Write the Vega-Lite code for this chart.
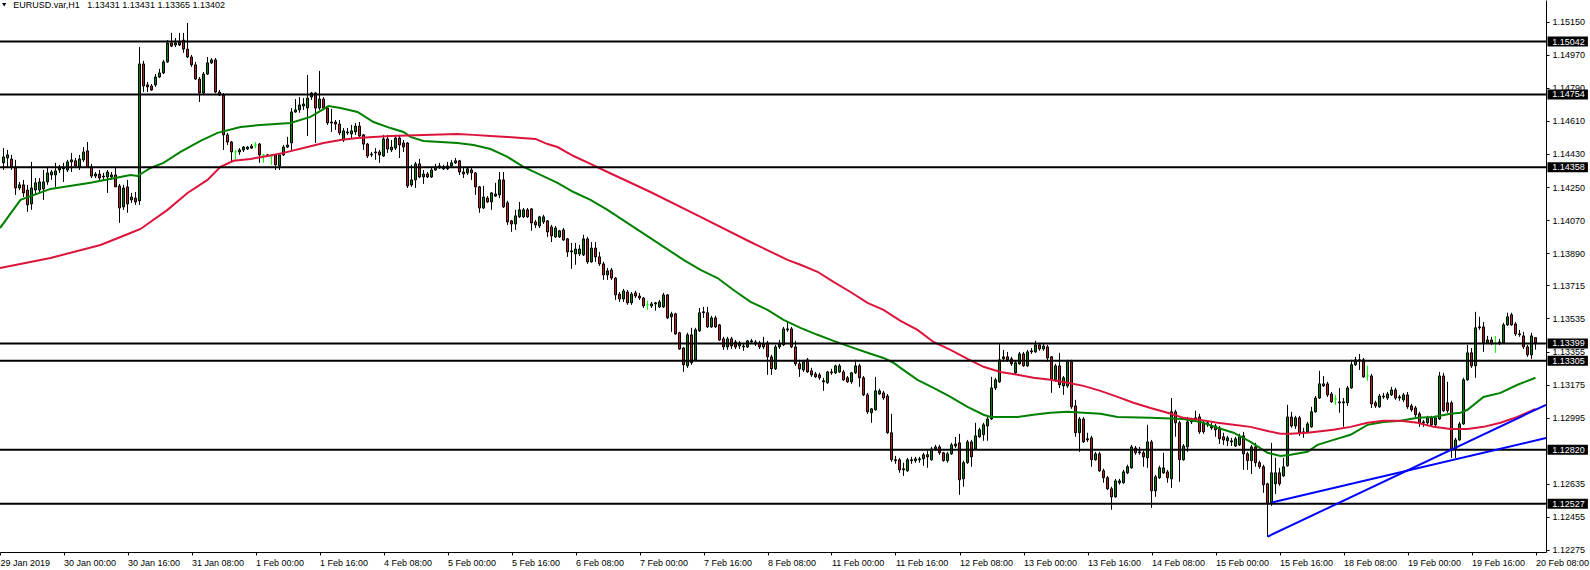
{
"$schema":"https://vega.github.io/schema/vega-lite/v6.json",
"width":1546,"height":552,"padding":{"left":0,"top":0,"right":44,"bottom":18},"autosize":"none","background":"white",
"config":{"view":{"stroke":null},"font":"Liberation Sans","axis":{"labelOverlap":false,"labelBound":false,"labelFlush":false},"axisQuantitative":{"labelOverlap":false},"axisRight":{"labelOverlap":false}},
"datasets":{
"bars":[
{"k":0,"o":1.14382,"h":1.14462,"l":1.14343,"c":1.14414},
{"k":1,"o":1.14408,"h":1.14452,"l":1.14360,"c":1.14425},
{"k":2,"o":1.14403,"h":1.14425,"l":1.14343,"c":1.14360},
{"k":3,"o":1.14360,"h":1.14398,"l":1.14207,"c":1.14245},
{"k":4,"o":1.14245,"h":1.14278,"l":1.14234,"c":1.14262},
{"k":5,"o":1.14262,"h":1.14289,"l":1.14196,"c":1.14218},
{"k":6,"o":1.14234,"h":1.14262,"l":1.14115,"c":1.14153},
{"k":7,"o":1.14158,"h":1.14387,"l":1.14126,"c":1.14245},
{"k":8,"o":1.14234,"h":1.14299,"l":1.14207,"c":1.14273},
{"k":9,"o":1.14234,"h":1.14299,"l":1.14218,"c":1.14278},
{"k":10,"o":1.14240,"h":1.14343,"l":1.14180,"c":1.14278},
{"k":11,"o":1.14278,"h":1.14354,"l":1.14262,"c":1.14327},
{"k":12,"o":1.14316,"h":1.14343,"l":1.14289,"c":1.14332},
{"k":13,"o":1.14316,"h":1.14382,"l":1.14251,"c":1.14338},
{"k":14,"o":1.14343,"h":1.14371,"l":1.14327,"c":1.14354},
{"k":15,"o":1.14349,"h":1.14382,"l":1.14278,"c":1.14354},
{"k":16,"o":1.14343,"h":1.14398,"l":1.14332,"c":1.14387},
{"k":17,"o":1.14387,"h":1.14436,"l":1.14332,"c":1.14398},
{"k":18,"o":1.14393,"h":1.14408,"l":1.14354,"c":1.14365},
{"k":19,"o":1.14360,"h":1.14425,"l":1.14343,"c":1.14403},
{"k":20,"o":1.14398,"h":1.14468,"l":1.14387,"c":1.14441},
{"k":21,"o":1.14447,"h":1.14495,"l":1.14360,"c":1.14360},
{"k":22,"o":1.14360,"h":1.14376,"l":1.14299,"c":1.14310},
{"k":23,"o":1.14310,"h":1.14332,"l":1.14299,"c":1.14321},
{"k":24,"o":1.14321,"h":1.14343,"l":1.14289,"c":1.14299},
{"k":25,"o":1.14305,"h":1.14327,"l":1.14289,"c":1.14310},
{"k":26,"o":1.14305,"h":1.14343,"l":1.14218,"c":1.14332},
{"k":27,"o":1.14305,"h":1.14332,"l":1.14289,"c":1.14316},
{"k":28,"o":1.14316,"h":1.14360,"l":1.14251,"c":1.14251},
{"k":29,"o":1.14256,"h":1.14267,"l":1.14055,"c":1.14136},
{"k":30,"o":1.14142,"h":1.14262,"l":1.14126,"c":1.14245},
{"k":31,"o":1.14251,"h":1.14289,"l":1.14110,"c":1.14158},
{"k":32,"o":1.14180,"h":1.14218,"l":1.14164,"c":1.14196},
{"k":33,"o":1.14190,"h":1.14223,"l":1.14153,"c":1.14169},
{"k":34,"o":1.14175,"h":1.15012,"l":1.14153,"c":1.14920},
{"k":35,"o":1.14920,"h":1.14937,"l":1.14767,"c":1.14800},
{"k":36,"o":1.14806,"h":1.14822,"l":1.14767,"c":1.14795},
{"k":37,"o":1.14800,"h":1.14811,"l":1.14773,"c":1.14778},
{"k":38,"o":1.14806,"h":1.14865,"l":1.14795,"c":1.14849},
{"k":39,"o":1.14849,"h":1.14893,"l":1.14843,"c":1.14871},
{"k":40,"o":1.14871,"h":1.14942,"l":1.14865,"c":1.14931},
{"k":41,"o":1.14931,"h":1.15050,"l":1.14926,"c":1.15034},
{"k":42,"o":1.15034,"h":1.15089,"l":1.15012,"c":1.15017},
{"k":43,"o":1.15023,"h":1.15061,"l":1.15012,"c":1.15034},
{"k":44,"o":1.15023,"h":1.15089,"l":1.15017,"c":1.15039},
{"k":45,"o":1.15050,"h":1.15089,"l":1.14980,"c":1.15001},
{"k":46,"o":1.15001,"h":1.15143,"l":1.14952,"c":1.14958},
{"k":47,"o":1.14958,"h":1.14969,"l":1.14904,"c":1.14915},
{"k":48,"o":1.14915,"h":1.14931,"l":1.14833,"c":1.14838},
{"k":49,"o":1.14838,"h":1.14849,"l":1.14713,"c":1.14762},
{"k":50,"o":1.14762,"h":1.14876,"l":1.14756,"c":1.14865},
{"k":51,"o":1.14865,"h":1.14958,"l":1.14860,"c":1.14926},
{"k":52,"o":1.14926,"h":1.14952,"l":1.14920,"c":1.14942},
{"k":53,"o":1.14942,"h":1.14952,"l":1.14762,"c":1.14767},
{"k":54,"o":1.14767,"h":1.14778,"l":1.14745,"c":1.14751},
{"k":55,"o":1.14751,"h":1.14762,"l":1.14452,"c":1.14534},
{"k":56,"o":1.14534,"h":1.14545,"l":1.14479,"c":1.14495},
{"k":57,"o":1.14495,"h":1.14501,"l":1.14387,"c":1.14441},
{"k":58,"o":1.14441,"h":1.14452,"l":1.14398,"c":1.14441},
{"k":59,"o":1.14441,"h":1.14462,"l":1.14425,"c":1.14452},
{"k":60,"o":1.14452,"h":1.14473,"l":1.14441,"c":1.14468},
{"k":61,"o":1.14457,"h":1.14473,"l":1.14452,"c":1.14468},
{"k":62,"o":1.14462,"h":1.14484,"l":1.14457,"c":1.14473},
{"k":63,"o":1.14479,"h":1.14495,"l":1.14462,"c":1.14479},
{"k":64,"o":1.14484,"h":1.14490,"l":1.14382,"c":1.14425},
{"k":65,"o":1.14425,"h":1.14430,"l":1.14382,"c":1.14425},
{"k":66,"o":1.14419,"h":1.14430,"l":1.14414,"c":1.14425},
{"k":67,"o":1.14419,"h":1.14430,"l":1.14371,"c":1.14419},
{"k":68,"o":1.14425,"h":1.14425,"l":1.14343,"c":1.14371},
{"k":69,"o":1.14365,"h":1.14425,"l":1.14343,"c":1.14425},
{"k":70,"o":1.14425,"h":1.14479,"l":1.14419,"c":1.14468},
{"k":71,"o":1.14468,"h":1.14523,"l":1.14462,"c":1.14479},
{"k":72,"o":1.14490,"h":1.14680,"l":1.14452,"c":1.14659},
{"k":73,"o":1.14659,"h":1.14729,"l":1.14654,"c":1.14670},
{"k":74,"o":1.14670,"h":1.14740,"l":1.14654,"c":1.14697},
{"k":75,"o":1.14691,"h":1.14734,"l":1.14670,"c":1.14702},
{"k":76,"o":1.14680,"h":1.14860,"l":1.14528,"c":1.14734},
{"k":77,"o":1.14740,"h":1.14767,"l":1.14724,"c":1.14762},
{"k":78,"o":1.14762,"h":1.14767,"l":1.14490,"c":1.14680},
{"k":79,"o":1.14680,"h":1.14882,"l":1.14670,"c":1.14729},
{"k":80,"o":1.14729,"h":1.14740,"l":1.14670,"c":1.14680},
{"k":81,"o":1.14680,"h":1.14686,"l":1.14588,"c":1.14599},
{"k":82,"o":1.14604,"h":1.14675,"l":1.14550,"c":1.14599},
{"k":83,"o":1.14604,"h":1.14615,"l":1.14561,"c":1.14593},
{"k":84,"o":1.14593,"h":1.14615,"l":1.14534,"c":1.14545},
{"k":85,"o":1.14506,"h":1.14571,"l":1.14495,"c":1.14556},
{"k":86,"o":1.14545,"h":1.14571,"l":1.14534,"c":1.14550},
{"k":87,"o":1.14539,"h":1.14588,"l":1.14517,"c":1.14556},
{"k":88,"o":1.14550,"h":1.14599,"l":1.14534,"c":1.14582},
{"k":89,"o":1.14582,"h":1.14604,"l":1.14523,"c":1.14528},
{"k":90,"o":1.14534,"h":1.14539,"l":1.14452,"c":1.14484},
{"k":91,"o":1.14484,"h":1.14490,"l":1.14408,"c":1.14419},
{"k":92,"o":1.14425,"h":1.14441,"l":1.14414,"c":1.14430},
{"k":93,"o":1.14441,"h":1.14462,"l":1.14398,"c":1.14436},
{"k":94,"o":1.14441,"h":1.14452,"l":1.14382,"c":1.14425},
{"k":95,"o":1.14419,"h":1.14534,"l":1.14414,"c":1.14512},
{"k":96,"o":1.14512,"h":1.14534,"l":1.14436,"c":1.14457},
{"k":97,"o":1.14452,"h":1.14506,"l":1.14441,"c":1.14468},
{"k":98,"o":1.14462,"h":1.14534,"l":1.14452,"c":1.14517},
{"k":99,"o":1.14517,"h":1.14534,"l":1.14408,"c":1.14479},
{"k":100,"o":1.14490,"h":1.14506,"l":1.14441,"c":1.14468},
{"k":101,"o":1.14490,"h":1.14495,"l":1.14245,"c":1.14256},
{"k":102,"o":1.14262,"h":1.14371,"l":1.14251,"c":1.14289},
{"k":103,"o":1.14289,"h":1.14387,"l":1.14245,"c":1.14376},
{"k":104,"o":1.14376,"h":1.14403,"l":1.14299,"c":1.14305},
{"k":105,"o":1.14305,"h":1.14343,"l":1.14267,"c":1.14321},
{"k":106,"o":1.14321,"h":1.14332,"l":1.14299,"c":1.14305},
{"k":107,"o":1.14305,"h":1.14354,"l":1.14299,"c":1.14343},
{"k":108,"o":1.14343,"h":1.14376,"l":1.14338,"c":1.14360},
{"k":109,"o":1.14354,"h":1.14382,"l":1.14349,"c":1.14365},
{"k":110,"o":1.14360,"h":1.14371,"l":1.14343,"c":1.14349},
{"k":111,"o":1.14349,"h":1.14387,"l":1.14343,"c":1.14365},
{"k":112,"o":1.14365,"h":1.14398,"l":1.14360,"c":1.14382},
{"k":113,"o":1.14382,"h":1.14408,"l":1.14376,"c":1.14393},
{"k":114,"o":1.14393,"h":1.14398,"l":1.14316,"c":1.14332},
{"k":115,"o":1.14332,"h":1.14360,"l":1.14299,"c":1.14321},
{"k":116,"o":1.14327,"h":1.14354,"l":1.14316,"c":1.14349},
{"k":117,"o":1.14343,"h":1.14354,"l":1.14289,"c":1.14327},
{"k":118,"o":1.14327,"h":1.14332,"l":1.14207,"c":1.14251},
{"k":119,"o":1.14251,"h":1.14256,"l":1.14110,"c":1.14136},
{"k":120,"o":1.14136,"h":1.14256,"l":1.14131,"c":1.14196},
{"k":121,"o":1.14190,"h":1.14201,"l":1.14164,"c":1.14169},
{"k":122,"o":1.14169,"h":1.14223,"l":1.14126,"c":1.14218},
{"k":123,"o":1.14201,"h":1.14273,"l":1.14196,"c":1.14212},
{"k":124,"o":1.14207,"h":1.14332,"l":1.14190,"c":1.14289},
{"k":125,"o":1.14289,"h":1.14332,"l":1.14136,"c":1.14142},
{"k":126,"o":1.14164,"h":1.14175,"l":1.14044,"c":1.14060},
{"k":127,"o":1.14066,"h":1.14071,"l":1.14006,"c":1.14049},
{"k":128,"o":1.14049,"h":1.14126,"l":1.14017,"c":1.14093},
{"k":129,"o":1.14088,"h":1.14169,"l":1.14082,"c":1.14126},
{"k":130,"o":1.14088,"h":1.14136,"l":1.14082,"c":1.14126},
{"k":131,"o":1.14126,"h":1.14136,"l":1.14082,"c":1.14088},
{"k":132,"o":1.14131,"h":1.14136,"l":1.14012,"c":1.14055},
{"k":133,"o":1.14060,"h":1.14071,"l":1.14027,"c":1.14044},
{"k":134,"o":1.14038,"h":1.14093,"l":1.14027,"c":1.14088},
{"k":135,"o":1.14060,"h":1.14099,"l":1.14049,"c":1.14088},
{"k":136,"o":1.14066,"h":1.14071,"l":1.13979,"c":1.14006},
{"k":137,"o":1.14033,"h":1.14044,"l":1.13951,"c":1.13984},
{"k":138,"o":1.13979,"h":1.14038,"l":1.13973,"c":1.14027},
{"k":139,"o":1.13979,"h":1.14017,"l":1.13973,"c":1.14012},
{"k":140,"o":1.14017,"h":1.14027,"l":1.13957,"c":1.13962},
{"k":141,"o":1.13968,"h":1.13973,"l":1.13870,"c":1.13897},
{"k":142,"o":1.13897,"h":1.13946,"l":1.13805,"c":1.13903},
{"k":143,"o":1.13886,"h":1.13946,"l":1.13827,"c":1.13913},
{"k":144,"o":1.13886,"h":1.13935,"l":1.13875,"c":1.13913},
{"k":145,"o":1.13881,"h":1.13990,"l":1.13875,"c":1.13968},
{"k":146,"o":1.13968,"h":1.13979,"l":1.13832,"c":1.13843},
{"k":147,"o":1.13843,"h":1.13951,"l":1.13838,"c":1.13918},
{"k":148,"o":1.13918,"h":1.13951,"l":1.13843,"c":1.13870},
{"k":149,"o":1.13870,"h":1.13897,"l":1.13821,"c":1.13832},
{"k":150,"o":1.13832,"h":1.13843,"l":1.13745,"c":1.13772},
{"k":151,"o":1.13772,"h":1.13810,"l":1.13745,"c":1.13794},
{"k":152,"o":1.13799,"h":1.13810,"l":1.13745,"c":1.13755},
{"k":153,"o":1.13755,"h":1.13761,"l":1.13636,"c":1.13663},
{"k":154,"o":1.13668,"h":1.13679,"l":1.13625,"c":1.13641},
{"k":155,"o":1.13641,"h":1.13696,"l":1.13625,"c":1.13685},
{"k":156,"o":1.13679,"h":1.13690,"l":1.13609,"c":1.13620},
{"k":157,"o":1.13620,"h":1.13679,"l":1.13609,"c":1.13668},
{"k":158,"o":1.13674,"h":1.13685,"l":1.13646,"c":1.13657},
{"k":159,"o":1.13657,"h":1.13674,"l":1.13636,"c":1.13646},
{"k":160,"o":1.13646,"h":1.13652,"l":1.13592,"c":1.13603},
{"k":161,"o":1.13609,"h":1.13631,"l":1.13582,"c":1.13609},
{"k":162,"o":1.13603,"h":1.13625,"l":1.13592,"c":1.13614},
{"k":163,"o":1.13614,"h":1.13625,"l":1.13577,"c":1.13620},
{"k":164,"o":1.13598,"h":1.13636,"l":1.13592,"c":1.13625},
{"k":165,"o":1.13598,"h":1.13674,"l":1.13592,"c":1.13663},
{"k":166,"o":1.13663,"h":1.13668,"l":1.13533,"c":1.13538},
{"k":167,"o":1.13544,"h":1.13571,"l":1.13462,"c":1.13560},
{"k":168,"o":1.13560,"h":1.13566,"l":1.13446,"c":1.13451},
{"k":169,"o":1.13457,"h":1.13462,"l":1.13364,"c":1.13369},
{"k":170,"o":1.13374,"h":1.13380,"l":1.13244,"c":1.13283},
{"k":171,"o":1.13277,"h":1.13457,"l":1.13266,"c":1.13446},
{"k":172,"o":1.13446,"h":1.13484,"l":1.13283,"c":1.13294},
{"k":173,"o":1.13310,"h":1.13484,"l":1.13305,"c":1.13473},
{"k":174,"o":1.13468,"h":1.13592,"l":1.13462,"c":1.13566},
{"k":175,"o":1.13566,"h":1.13598,"l":1.13538,"c":1.13571},
{"k":176,"o":1.13566,"h":1.13598,"l":1.13484,"c":1.13489},
{"k":177,"o":1.13489,"h":1.13549,"l":1.13484,"c":1.13538},
{"k":178,"o":1.13538,"h":1.13549,"l":1.13484,"c":1.13489},
{"k":179,"o":1.13500,"h":1.13505,"l":1.13413,"c":1.13418},
{"k":180,"o":1.13424,"h":1.13435,"l":1.13364,"c":1.13380},
{"k":181,"o":1.13380,"h":1.13435,"l":1.13364,"c":1.13424},
{"k":182,"o":1.13424,"h":1.13435,"l":1.13369,"c":1.13385},
{"k":183,"o":1.13407,"h":1.13418,"l":1.13369,"c":1.13380},
{"k":184,"o":1.13385,"h":1.13413,"l":1.13369,"c":1.13402},
{"k":185,"o":1.13380,"h":1.13396,"l":1.13359,"c":1.13385},
{"k":186,"o":1.13380,"h":1.13418,"l":1.13374,"c":1.13413},
{"k":187,"o":1.13407,"h":1.13424,"l":1.13396,"c":1.13413},
{"k":188,"o":1.13407,"h":1.13418,"l":1.13385,"c":1.13396},
{"k":189,"o":1.13402,"h":1.13413,"l":1.13369,"c":1.13380},
{"k":190,"o":1.13396,"h":1.13435,"l":1.13369,"c":1.13380},
{"k":191,"o":1.13402,"h":1.13413,"l":1.13228,"c":1.13326},
{"k":192,"o":1.13326,"h":1.13337,"l":1.13228,"c":1.13261},
{"k":193,"o":1.13261,"h":1.13391,"l":1.13255,"c":1.13380},
{"k":194,"o":1.13380,"h":1.13418,"l":1.13369,"c":1.13396},
{"k":195,"o":1.13391,"h":1.13489,"l":1.13385,"c":1.13478},
{"k":196,"o":1.13473,"h":1.13516,"l":1.13462,"c":1.13478},
{"k":197,"o":1.13478,"h":1.13489,"l":1.13374,"c":1.13380},
{"k":198,"o":1.13380,"h":1.13413,"l":1.13277,"c":1.13288},
{"k":199,"o":1.13288,"h":1.13310,"l":1.13217,"c":1.13261},
{"k":200,"o":1.13255,"h":1.13310,"l":1.13244,"c":1.13299},
{"k":201,"o":1.13310,"h":1.13320,"l":1.13239,"c":1.13244},
{"k":202,"o":1.13250,"h":1.13266,"l":1.13217,"c":1.13228},
{"k":203,"o":1.13233,"h":1.13244,"l":1.13212,"c":1.13217},
{"k":204,"o":1.13228,"h":1.13239,"l":1.13201,"c":1.13212},
{"k":205,"o":1.13196,"h":1.13212,"l":1.13141,"c":1.13190},
{"k":206,"o":1.13185,"h":1.13250,"l":1.13179,"c":1.13244},
{"k":207,"o":1.13239,"h":1.13261,"l":1.13228,"c":1.13244},
{"k":208,"o":1.13239,"h":1.13283,"l":1.13233,"c":1.13277},
{"k":209,"o":1.13244,"h":1.13288,"l":1.13239,"c":1.13277},
{"k":210,"o":1.13244,"h":1.13255,"l":1.13196,"c":1.13201},
{"k":211,"o":1.13212,"h":1.13222,"l":1.13185,"c":1.13190},
{"k":212,"o":1.13190,"h":1.13244,"l":1.13179,"c":1.13239},
{"k":213,"o":1.13239,"h":1.13310,"l":1.13233,"c":1.13277},
{"k":214,"o":1.13277,"h":1.13288,"l":1.13163,"c":1.13212},
{"k":215,"o":1.13212,"h":1.13222,"l":1.13113,"c":1.13119},
{"k":216,"o":1.13119,"h":1.13130,"l":1.13016,"c":1.13027},
{"k":217,"o":1.13022,"h":1.13048,"l":1.12967,"c":1.13043},
{"k":218,"o":1.13038,"h":1.13217,"l":1.13033,"c":1.13141},
{"k":219,"o":1.13124,"h":1.13152,"l":1.13119,"c":1.13141},
{"k":220,"o":1.13130,"h":1.13141,"l":1.13092,"c":1.13102},
{"k":221,"o":1.13113,"h":1.13124,"l":1.12907,"c":1.12913},
{"k":222,"o":1.12913,"h":1.13016,"l":1.12755,"c":1.12766},
{"k":223,"o":1.12761,"h":1.12787,"l":1.12744,"c":1.12766},
{"k":224,"o":1.12766,"h":1.12776,"l":1.12695,"c":1.12711},
{"k":225,"o":1.12711,"h":1.12750,"l":1.12678,"c":1.12717},
{"k":226,"o":1.12706,"h":1.12776,"l":1.12700,"c":1.12766},
{"k":227,"o":1.12761,"h":1.12782,"l":1.12744,"c":1.12766},
{"k":228,"o":1.12761,"h":1.12782,"l":1.12750,"c":1.12771},
{"k":229,"o":1.12766,"h":1.12782,"l":1.12750,"c":1.12771},
{"k":230,"o":1.12771,"h":1.12804,"l":1.12733,"c":1.12793},
{"k":231,"o":1.12793,"h":1.12815,"l":1.12722,"c":1.12782},
{"k":232,"o":1.12766,"h":1.12836,"l":1.12761,"c":1.12825},
{"k":233,"o":1.12825,"h":1.12847,"l":1.12815,"c":1.12836},
{"k":234,"o":1.12836,"h":1.12847,"l":1.12793,"c":1.12804},
{"k":235,"o":1.12804,"h":1.12809,"l":1.12755,"c":1.12761},
{"k":236,"o":1.12761,"h":1.12809,"l":1.12750,"c":1.12798},
{"k":237,"o":1.12798,"h":1.12858,"l":1.12793,"c":1.12847},
{"k":238,"o":1.12841,"h":1.12890,"l":1.12830,"c":1.12852},
{"k":239,"o":1.12858,"h":1.12907,"l":1.12575,"c":1.12657},
{"k":240,"o":1.12662,"h":1.12761,"l":1.12619,"c":1.12750},
{"k":241,"o":1.12750,"h":1.12874,"l":1.12744,"c":1.12863},
{"k":242,"o":1.12863,"h":1.12874,"l":1.12728,"c":1.12782},
{"k":243,"o":1.12825,"h":1.12967,"l":1.12820,"c":1.12896},
{"k":244,"o":1.12891,"h":1.12940,"l":1.12885,"c":1.12929},
{"k":245,"o":1.12902,"h":1.12967,"l":1.12869,"c":1.12956},
{"k":246,"o":1.12950,"h":1.12999,"l":1.12869,"c":1.12988},
{"k":247,"o":1.12988,"h":1.13217,"l":1.12983,"c":1.13157},
{"k":248,"o":1.13157,"h":1.13212,"l":1.13146,"c":1.13201},
{"k":249,"o":1.13190,"h":1.13396,"l":1.13185,"c":1.13310},
{"k":250,"o":1.13315,"h":1.13364,"l":1.13299,"c":1.13326},
{"k":251,"o":1.13326,"h":1.13353,"l":1.13299,"c":1.13310},
{"k":252,"o":1.13315,"h":1.13326,"l":1.13277,"c":1.13288},
{"k":253,"o":1.13239,"h":1.13305,"l":1.13233,"c":1.13294},
{"k":254,"o":1.13288,"h":1.13353,"l":1.13283,"c":1.13342},
{"k":255,"o":1.13342,"h":1.13353,"l":1.13272,"c":1.13277},
{"k":256,"o":1.13277,"h":1.13364,"l":1.13272,"c":1.13353},
{"k":257,"o":1.13353,"h":1.13374,"l":1.13342,"c":1.13359},
{"k":258,"o":1.13353,"h":1.13413,"l":1.13348,"c":1.13391},
{"k":259,"o":1.13391,"h":1.13402,"l":1.13359,"c":1.13369},
{"k":260,"o":1.13369,"h":1.13396,"l":1.13359,"c":1.13385},
{"k":261,"o":1.13380,"h":1.13391,"l":1.13299,"c":1.13320},
{"k":262,"o":1.13326,"h":1.13331,"l":1.13130,"c":1.13201},
{"k":263,"o":1.13201,"h":1.13288,"l":1.13190,"c":1.13277},
{"k":264,"o":1.13277,"h":1.13348,"l":1.13157,"c":1.13174},
{"k":265,"o":1.13168,"h":1.13222,"l":1.13119,"c":1.13212},
{"k":266,"o":1.13168,"h":1.13310,"l":1.13157,"c":1.13299},
{"k":267,"o":1.13299,"h":1.13310,"l":1.13043,"c":1.13054},
{"k":268,"o":1.13059,"h":1.13092,"l":1.12891,"c":1.12913},
{"k":269,"o":1.12913,"h":1.12999,"l":1.12809,"c":1.12988},
{"k":270,"o":1.12988,"h":1.12999,"l":1.12858,"c":1.12863},
{"k":271,"o":1.12874,"h":1.12913,"l":1.12863,"c":1.12880},
{"k":272,"o":1.12885,"h":1.12896,"l":1.12728,"c":1.12766},
{"k":273,"o":1.12766,"h":1.12809,"l":1.12761,"c":1.12798},
{"k":274,"o":1.12798,"h":1.12809,"l":1.12700,"c":1.12706},
{"k":275,"o":1.12706,"h":1.12717,"l":1.12641,"c":1.12668},
{"k":276,"o":1.12668,"h":1.12678,"l":1.12602,"c":1.12608},
{"k":277,"o":1.12608,"h":1.12619,"l":1.12494,"c":1.12564},
{"k":278,"o":1.12564,"h":1.12662,"l":1.12559,"c":1.12651},
{"k":279,"o":1.12641,"h":1.12662,"l":1.12630,"c":1.12651},
{"k":280,"o":1.12641,"h":1.12711,"l":1.12635,"c":1.12700},
{"k":281,"o":1.12695,"h":1.12739,"l":1.12689,"c":1.12728},
{"k":282,"o":1.12722,"h":1.12847,"l":1.12717,"c":1.12836},
{"k":283,"o":1.12830,"h":1.12841,"l":1.12793,"c":1.12804},
{"k":284,"o":1.12804,"h":1.12836,"l":1.12793,"c":1.12809},
{"k":285,"o":1.12804,"h":1.12815,"l":1.12728,"c":1.12782},
{"k":286,"o":1.12776,"h":1.12956,"l":1.12722,"c":1.12863},
{"k":287,"o":1.12863,"h":1.12874,"l":1.12504,"c":1.12597},
{"k":288,"o":1.12597,"h":1.12684,"l":1.12564,"c":1.12673},
{"k":289,"o":1.12668,"h":1.12733,"l":1.12662,"c":1.12722},
{"k":290,"o":1.12695,"h":1.12804,"l":1.12689,"c":1.12722},
{"k":291,"o":1.12700,"h":1.12711,"l":1.12641,"c":1.12668},
{"k":292,"o":1.12662,"h":1.13102,"l":1.12613,"c":1.13027},
{"k":293,"o":1.13027,"h":1.13038,"l":1.12891,"c":1.12967},
{"k":294,"o":1.12967,"h":1.12978,"l":1.12646,"c":1.12766},
{"k":295,"o":1.12766,"h":1.12852,"l":1.12761,"c":1.12841},
{"k":296,"o":1.12836,"h":1.12999,"l":1.12809,"c":1.12972},
{"k":297,"o":1.12972,"h":1.12994,"l":1.12961,"c":1.12983},
{"k":298,"o":1.12983,"h":1.13033,"l":1.12972,"c":1.12994},
{"k":299,"o":1.12999,"h":1.13016,"l":1.12907,"c":1.12918},
{"k":300,"o":1.12967,"h":1.12978,"l":1.12907,"c":1.12918},
{"k":301,"o":1.12956,"h":1.12978,"l":1.12945,"c":1.12967},
{"k":302,"o":1.12950,"h":1.12967,"l":1.12929,"c":1.12940},
{"k":303,"o":1.12950,"h":1.12961,"l":1.12891,"c":1.12929},
{"k":304,"o":1.12940,"h":1.12950,"l":1.12852,"c":1.12880},
{"k":305,"o":1.12891,"h":1.12913,"l":1.12847,"c":1.12874},
{"k":306,"o":1.12869,"h":1.12896,"l":1.12841,"c":1.12885},
{"k":307,"o":1.12863,"h":1.12885,"l":1.12841,"c":1.12869},
{"k":308,"o":1.12841,"h":1.12891,"l":1.12836,"c":1.12880},
{"k":309,"o":1.12847,"h":1.12907,"l":1.12841,"c":1.12891},
{"k":310,"o":1.12896,"h":1.12918,"l":1.12711,"c":1.12798},
{"k":311,"o":1.12798,"h":1.12809,"l":1.12711,"c":1.12761},
{"k":312,"o":1.12761,"h":1.12847,"l":1.12689,"c":1.12836},
{"k":313,"o":1.12836,"h":1.12858,"l":1.12728,"c":1.12750},
{"k":314,"o":1.12750,"h":1.12761,"l":1.12717,"c":1.12728},
{"k":315,"o":1.12728,"h":1.12739,"l":1.12586,"c":1.12630},
{"k":316,"o":1.12635,"h":1.12641,"l":1.12346,"c":1.12532},
{"k":317,"o":1.12532,"h":1.12858,"l":1.12515,"c":1.12695},
{"k":318,"o":1.12635,"h":1.12776,"l":1.12580,"c":1.12695},
{"k":319,"o":1.12695,"h":1.12722,"l":1.12624,"c":1.12635},
{"k":320,"o":1.12678,"h":1.12776,"l":1.12673,"c":1.12728},
{"k":321,"o":1.12733,"h":1.13065,"l":1.12728,"c":1.12999},
{"k":322,"o":1.12999,"h":1.13027,"l":1.12940,"c":1.12950},
{"k":323,"o":1.12950,"h":1.13005,"l":1.12934,"c":1.12994},
{"k":324,"o":1.12994,"h":1.13005,"l":1.12896,"c":1.12913},
{"k":325,"o":1.12913,"h":1.12940,"l":1.12885,"c":1.12918},
{"k":326,"o":1.12918,"h":1.12972,"l":1.12913,"c":1.12961},
{"k":327,"o":1.12945,"h":1.13054,"l":1.12940,"c":1.13027},
{"k":328,"o":1.13027,"h":1.13113,"l":1.13022,"c":1.13102},
{"k":329,"o":1.13102,"h":1.13250,"l":1.13097,"c":1.13179},
{"k":330,"o":1.13168,"h":1.13222,"l":1.13163,"c":1.13179},
{"k":331,"o":1.13179,"h":1.13190,"l":1.13108,"c":1.13119},
{"k":332,"o":1.13124,"h":1.13135,"l":1.13076,"c":1.13081},
{"k":333,"o":1.13097,"h":1.13119,"l":1.13065,"c":1.13097},
{"k":334,"o":1.13076,"h":1.13157,"l":1.13022,"c":1.13081},
{"k":335,"o":1.13081,"h":1.13102,"l":1.12945,"c":1.13076},
{"k":336,"o":1.13076,"h":1.13168,"l":1.13059,"c":1.13157},
{"k":337,"o":1.13157,"h":1.13310,"l":1.13152,"c":1.13283},
{"k":338,"o":1.13283,"h":1.13326,"l":1.13277,"c":1.13310},
{"k":339,"o":1.13305,"h":1.13342,"l":1.13255,"c":1.13310},
{"k":340,"o":1.13310,"h":1.13320,"l":1.13212,"c":1.13217},
{"k":341,"o":1.13222,"h":1.13277,"l":1.13196,"c":1.13222},
{"k":342,"o":1.13222,"h":1.13233,"l":1.13048,"c":1.13070},
{"k":343,"o":1.13076,"h":1.13087,"l":1.13048,"c":1.13059},
{"k":344,"o":1.13054,"h":1.13124,"l":1.13048,"c":1.13113},
{"k":345,"o":1.13108,"h":1.13130,"l":1.13097,"c":1.13113},
{"k":346,"o":1.13102,"h":1.13135,"l":1.13092,"c":1.13124},
{"k":347,"o":1.13119,"h":1.13163,"l":1.13113,"c":1.13146},
{"k":348,"o":1.13146,"h":1.13157,"l":1.13092,"c":1.13102},
{"k":349,"o":1.13102,"h":1.13119,"l":1.13087,"c":1.13108},
{"k":350,"o":1.13092,"h":1.13130,"l":1.13081,"c":1.13119},
{"k":351,"o":1.13119,"h":1.13135,"l":1.13043,"c":1.13054},
{"k":352,"o":1.13059,"h":1.13070,"l":1.13027,"c":1.13038},
{"k":353,"o":1.13048,"h":1.13059,"l":1.12999,"c":1.13011},
{"k":354,"o":1.13016,"h":1.13027,"l":1.12945,"c":1.12967},
{"k":355,"o":1.12967,"h":1.12983,"l":1.12945,"c":1.12972},
{"k":356,"o":1.12967,"h":1.13005,"l":1.12956,"c":1.12994},
{"k":357,"o":1.12994,"h":1.13005,"l":1.12950,"c":1.12956},
{"k":358,"o":1.12956,"h":1.13005,"l":1.12950,"c":1.12994},
{"k":359,"o":1.12988,"h":1.13244,"l":1.12983,"c":1.13222},
{"k":360,"o":1.13222,"h":1.13239,"l":1.13027,"c":1.13033},
{"k":361,"o":1.13076,"h":1.13190,"l":1.13022,"c":1.13033},
{"k":362,"o":1.13076,"h":1.13087,"l":1.12776,"c":1.12825},
{"k":363,"o":1.12825,"h":1.12885,"l":1.12776,"c":1.12874},
{"k":364,"o":1.12874,"h":1.12972,"l":1.12869,"c":1.12961},
{"k":365,"o":1.12961,"h":1.13212,"l":1.12956,"c":1.13201},
{"k":366,"o":1.13201,"h":1.13391,"l":1.13196,"c":1.13348},
{"k":367,"o":1.13348,"h":1.13374,"l":1.13266,"c":1.13277},
{"k":368,"o":1.13277,"h":1.13571,"l":1.13212,"c":1.13484},
{"k":369,"o":1.13484,"h":1.13544,"l":1.13473,"c":1.13489},
{"k":370,"o":1.13489,"h":1.13516,"l":1.13353,"c":1.13402},
{"k":371,"o":1.13402,"h":1.13440,"l":1.13396,"c":1.13418},
{"k":372,"o":1.13418,"h":1.13435,"l":1.13391,"c":1.13402},
{"k":373,"o":1.13402,"h":1.13440,"l":1.13348,"c":1.13402},
{"k":374,"o":1.13402,"h":1.13424,"l":1.13391,"c":1.13407},
{"k":375,"o":1.13402,"h":1.13511,"l":1.13396,"c":1.13500},
{"k":376,"o":1.13500,"h":1.13566,"l":1.13495,"c":1.13544},
{"k":377,"o":1.13555,"h":1.13566,"l":1.13495,"c":1.13500},
{"k":378,"o":1.13505,"h":1.13516,"l":1.13440,"c":1.13451},
{"k":379,"o":1.13451,"h":1.13473,"l":1.13435,"c":1.13446},
{"k":380,"o":1.13440,"h":1.13462,"l":1.13369,"c":1.13380},
{"k":381,"o":1.13380,"h":1.13391,"l":1.13326,"c":1.13337},
{"k":382,"o":1.13337,"h":1.13457,"l":1.13315,"c":1.13440},
{"k":383,"o":1.13431,"h":1.13431,"l":1.13365,"c":1.13402}
],
"ma":[
{"k":-0.875,"v":1.14027,"s":"g"},{"k":4.25,"v":1.14180,"s":"g"},{"k":11.75,"v":1.14240,"s":"g"},{"k":21.75,"v":1.14273,"s":"g"},{"k":31.75,"v":1.14316,"s":"g"},{"k":33.5,"v":1.14310,"s":"g"},{"k":36.75,"v":1.14354,"s":"g"},{"k":40,"v":1.14382,"s":"g"},{"k":44.25,"v":1.14441,"s":"g"},{"k":49.25,"v":1.14501,"s":"g"},{"k":53.5,"v":1.14545,"s":"g"},{"k":59.25,"v":1.14577,"s":"g"},{"k":64.25,"v":1.14588,"s":"g"},{"k":71.75,"v":1.14599,"s":"g"},{"k":76.75,"v":1.14632,"s":"g"},{"k":81.25,"v":1.14691,"s":"g"},{"k":84.25,"v":1.14680,"s":"g"},{"k":88.5,"v":1.14659,"s":"g"},{"k":92.5,"v":1.14604,"s":"g"},{"k":96.75,"v":1.14571,"s":"g"},{"k":100,"v":1.14550,"s":"g"},{"k":101.75,"v":1.14523,"s":"g"},{"k":105,"v":1.14501,"s":"g"},{"k":113.5,"v":1.14490,"s":"g"},{"k":117.5,"v":1.14479,"s":"g"},{"k":121.75,"v":1.14457,"s":"g"},{"k":126,"v":1.14414,"s":"g"},{"k":130,"v":1.14360,"s":"g"},{"k":134.25,"v":1.14316,"s":"g"},{"k":138.5,"v":1.14273,"s":"g"},{"k":142.5,"v":1.14223,"s":"g"},{"k":146.75,"v":1.14180,"s":"g"},{"k":151,"v":1.14126,"s":"g"},{"k":160.5,"v":1.13990,"s":"g"},{"k":170,"v":1.13854,"s":"g"},{"k":174.25,"v":1.13799,"s":"g"},{"k":178.5,"v":1.13755,"s":"g"},{"k":182.5,"v":1.13690,"s":"g"},{"k":186.75,"v":1.13625,"s":"g"},{"k":191,"v":1.13582,"s":"g"},{"k":195,"v":1.13527,"s":"g"},{"k":199.25,"v":1.13484,"s":"g"},{"k":203.5,"v":1.13446,"s":"g"},{"k":207.5,"v":1.13413,"s":"g"},{"k":211.75,"v":1.13380,"s":"g"},{"k":216,"v":1.13348,"s":"g"},{"k":220,"v":1.13320,"s":"g"},{"k":222.5,"v":1.13294,"s":"g"},{"k":224.25,"v":1.13266,"s":"g"},{"k":228.5,"v":1.13201,"s":"g"},{"k":232.5,"v":1.13157,"s":"g"},{"k":236.75,"v":1.13108,"s":"g"},{"k":241,"v":1.13054,"s":"g"},{"k":245,"v":1.13011,"s":"g"},{"k":246.75,"v":1.12999,"s":"g"},{"k":253.5,"v":1.12999,"s":"g"},{"k":257.5,"v":1.13011,"s":"g"},{"k":261.75,"v":1.13022,"s":"g"},{"k":266,"v":1.13027,"s":"g"},{"k":270,"v":1.13022,"s":"g"},{"k":274.25,"v":1.13016,"s":"g"},{"k":278.5,"v":1.12999,"s":"g"},{"k":286.75,"v":1.12994,"s":"g"},{"k":295,"v":1.12988,"s":"g"},{"k":299.25,"v":1.12972,"s":"g"},{"k":303.5,"v":1.12940,"s":"g"},{"k":307.5,"v":1.12913,"s":"g"},{"k":311.75,"v":1.12863,"s":"g"},{"k":316,"v":1.12804,"s":"g"},{"k":319.25,"v":1.12787,"s":"g"},{"k":321.75,"v":1.12793,"s":"g"},{"k":326,"v":1.12809,"s":"g"},{"k":328.5,"v":1.12847,"s":"g"},{"k":332.5,"v":1.12874,"s":"g"},{"k":336.75,"v":1.12902,"s":"g"},{"k":341,"v":1.12956,"s":"g"},{"k":345,"v":1.12972,"s":"g"},{"k":349.25,"v":1.12978,"s":"g"},{"k":353.5,"v":1.12994,"s":"g"},{"k":357.5,"v":1.12999,"s":"g"},{"k":361.75,"v":1.13016,"s":"g"},{"k":364.25,"v":1.13022,"s":"g"},{"k":366,"v":1.13038,"s":"g"},{"k":370,"v":1.13108,"s":"g"},{"k":374.25,"v":1.13130,"s":"g"},{"k":378.5,"v":1.13174,"s":"g"},{"k":383,"v":1.13212,"s":"g"},
{"k":-0.875,"v":1.13810,"s":"r"},{"k":11.75,"v":1.13864,"s":"r"},{"k":24.25,"v":1.13935,"s":"r"},{"k":31.75,"v":1.14000,"s":"r"},{"k":34.25,"v":1.14022,"s":"r"},{"k":41,"v":1.14126,"s":"r"},{"k":46,"v":1.14218,"s":"r"},{"k":51,"v":1.14289,"s":"r"},{"k":54.25,"v":1.14360,"s":"r"},{"k":57.5,"v":1.14393,"s":"r"},{"k":61.75,"v":1.14403,"s":"r"},{"k":66,"v":1.14419,"s":"r"},{"k":70,"v":1.14436,"s":"r"},{"k":76,"v":1.14468,"s":"r"},{"k":80,"v":1.14490,"s":"r"},{"k":84.25,"v":1.14506,"s":"r"},{"k":88.5,"v":1.14517,"s":"r"},{"k":92.5,"v":1.14523,"s":"r"},{"k":96.75,"v":1.14528,"s":"r"},{"k":105,"v":1.14534,"s":"r"},{"k":113.5,"v":1.14539,"s":"r"},{"k":117.5,"v":1.14534,"s":"r"},{"k":121.75,"v":1.14528,"s":"r"},{"k":126,"v":1.14523,"s":"r"},{"k":133,"v":1.14512,"s":"r"},{"k":136,"v":1.14484,"s":"r"},{"k":138.5,"v":1.14468,"s":"r"},{"k":142.5,"v":1.14419,"s":"r"},{"k":146.75,"v":1.14376,"s":"r"},{"k":151,"v":1.14332,"s":"r"},{"k":161.75,"v":1.14223,"s":"r"},{"k":174.25,"v":1.14088,"s":"r"},{"k":186.75,"v":1.13951,"s":"r"},{"k":196,"v":1.13854,"s":"r"},{"k":199.25,"v":1.13827,"s":"r"},{"k":203.5,"v":1.13789,"s":"r"},{"k":207.5,"v":1.13734,"s":"r"},{"k":211.75,"v":1.13679,"s":"r"},{"k":216,"v":1.13620,"s":"r"},{"k":220,"v":1.13582,"s":"r"},{"k":224.25,"v":1.13522,"s":"r"},{"k":228.5,"v":1.13473,"s":"r"},{"k":232.5,"v":1.13407,"s":"r"},{"k":236.75,"v":1.13364,"s":"r"},{"k":241,"v":1.13315,"s":"r"},{"k":245,"v":1.13272,"s":"r"},{"k":249.25,"v":1.13244,"s":"r"},{"k":253.5,"v":1.13228,"s":"r"},{"k":257.5,"v":1.13212,"s":"r"},{"k":261.75,"v":1.13201,"s":"r"},{"k":266,"v":1.13185,"s":"r"},{"k":270,"v":1.13168,"s":"r"},{"k":274.25,"v":1.13141,"s":"r"},{"k":278.5,"v":1.13108,"s":"r"},{"k":282.5,"v":1.13076,"s":"r"},{"k":286.75,"v":1.13048,"s":"r"},{"k":291,"v":1.13022,"s":"r"},{"k":295,"v":1.12994,"s":"r"},{"k":299.25,"v":1.12983,"s":"r"},{"k":303.5,"v":1.12967,"s":"r"},{"k":307.5,"v":1.12956,"s":"r"},{"k":311.75,"v":1.12945,"s":"r"},{"k":316,"v":1.12923,"s":"r"},{"k":319.25,"v":1.12907,"s":"r"},{"k":321.75,"v":1.12907,"s":"r"},{"k":326,"v":1.12913,"s":"r"},{"k":332.5,"v":1.12929,"s":"r"},{"k":336.75,"v":1.12945,"s":"r"},{"k":341,"v":1.12967,"s":"r"},{"k":345,"v":1.12978,"s":"r"},{"k":349.25,"v":1.12978,"s":"r"},{"k":353.5,"v":1.12967,"s":"r"},{"k":357.5,"v":1.12945,"s":"r"},{"k":361.75,"v":1.12934,"s":"r"},{"k":366,"v":1.12934,"s":"r"},{"k":370,"v":1.12945,"s":"r"},{"k":374.25,"v":1.12967,"s":"r"},{"k":378.5,"v":1.12999,"s":"r"},{"k":383,"v":1.13043,"s":"r"}
],
"tl":[
{"k":316.05,"v":1.12348,"id":"a"},{"k":385.625,"v":1.13065,"id":"a"},
{"k":317.05,"v":1.12533,"id":"b"},{"k":385.625,"v":1.12884,"id":"b"}
],
"lv":[{"p":1.15042},{"p":1.14754},{"p":1.14358},{"p":1.13399},{"p":1.13305},{"p":1.12820},{"p":1.12527}],
"hd":[{"t":"EURUSD.var,H1\u00a0\u00a0\u00a01.13431 1.13431 1.13365 1.13402"}]
},
"layer":[
{"data":{"name":"bars"},"mark":{"type":"rule","strokeWidth":1},
"encoding":{
"x":{"field":"k","type":"quantitative","scale":{"domain":[-0.875,385.625],"nice":false,"zero":false,"padding":0},
"axis":{"orient":"bottom","title":null,"grid":false,"values":[-0.875,15,31,47,63,79,95,111,127,143,159,175,191,207,223,239,255,271,287,303,319,335,351,367,383],
"labelExpr":"datum.value < 0 ? '29 Jan 2019' : ['30 Jan 00:00','30 Jan 16:00','31 Jan 08:00','1 Feb 00:00','1 Feb 16:00','4 Feb 08:00','5 Feb 00:00','5 Feb 16:00','6 Feb 08:00','7 Feb 00:00','7 Feb 16:00','8 Feb 08:00','11 Feb 00:00','11 Feb 16:00','12 Feb 08:00','13 Feb 00:00','13 Feb 16:00','14 Feb 08:00','15 Feb 00:00','15 Feb 16:00','18 Feb 08:00','19 Feb 00:00','19 Feb 16:00','20 Feb 08:00'][round((datum.value - 15) / 16)]",
"domainColor":"#000000","domainWidth":1,"tickColor":"#000000","tickSize":3,"tickWidth":1,"labelAlign":"left","labelBaseline":"alphabetic","labelPadding":10,"labelDx":-1,"labelFont":"Liberation Sans","labelFontSize":9,"labelColor":"#000000","labelOverlap":false,"labelFlush":false,"labelBound":false}},
"y":{"field":"l","type":"quantitative","scale":{"domain":[1.12264,1.15268],"nice":false,"zero":false},
"axis":{"orient":"right","title":null,"grid":false,"values":[1.1515,1.1497,1.1479,1.1461,1.1443,1.1425,1.1407,1.1389,1.13715,1.13535,1.13355,1.13175,1.12995,1.12635,1.12455,1.12275],"format":".5f","tickCount":20,
"domainColor":"#000000","domainWidth":1,"tickColor":"#000000","tickSize":3,"tickWidth":1,"labelPadding":3,"labelFont":"Liberation Sans","labelFontSize":9,"labelColor":"#000000","labelOverlap":false,"labelFlush":false,"labelBound":false,"labelSeparation":0}},
"y2":{"field":"h"},
"color":{"condition":{"test":"datum.o == datum.c","value":"#00ff00"},"value":"#000000"}}},
{"data":{"name":"bars"},"mark":{"type":"bar","width":2,"strokeWidth":1},
"encoding":{
"x":{"field":"k","type":"quantitative"},
"y":{"field":"o","type":"quantitative"},
"y2":{"field":"c"},
"fill":{"condition":{"test":"datum.c < datum.o","value":"#b22222"},"value":"#008000"},
"stroke":{"condition":{"test":"datum.o == datum.c","value":"#00ff00"},"value":"#000000"}}},
{"data":{"name":"ma"},"mark":{"type":"line","strokeWidth":2},
"encoding":{
"x":{"field":"k","type":"quantitative"},
"y":{"field":"v","type":"quantitative"},
"color":{"field":"s","type":"nominal","scale":{"domain":["g","r"],"range":["#008000","#dc143c"]},"legend":null}}},
{"data":{"name":"lv"},"mark":{"type":"rule","color":"#000000","strokeWidth":2},
"encoding":{"y":{"field":"p","type":"quantitative"}}},
{"data":{"name":"tl"},"mark":{"type":"line","strokeWidth":2,"color":"#0000ff"},
"encoding":{
"x":{"field":"k","type":"quantitative"},
"y":{"field":"v","type":"quantitative"},
"detail":{"field":"id","type":"nominal"}}},
{"data":{"name":"lv"},"mark":{"type":"rule","color":"#000000","strokeWidth":10,"strokeCap":"butt"},
"encoding":{"x":{"datum":386.0},"x2":{"datum":396.1},"y":{"field":"p","type":"quantitative"}}},
{"data":{"name":"lv"},"mark":{"type":"text","color":"#ffffff","align":"left","baseline":"middle","font":"Liberation Sans","fontSize":9},
"encoding":{"x":{"datum":387.2},"y":{"field":"p","type":"quantitative"},"text":{"field":"p","type":"quantitative","format":".5f"}}},
{"data":{"name":"hd"},"mark":{"type":"text","color":"#000000","align":"left","baseline":"alphabetic","font":"Liberation Sans","fontSize":9},
"encoding":{"x":{"datum":2.45},"y":{"datum":1.152245},"text":{"field":"t"}}},
{"data":{"name":"hd"},"mark":{"type":"point","shape":"triangle-down","filled":true,"color":"#000000","size":18,"opacity":1},
"encoding":{"x":{"datum":0.175},"y":{"datum":1.15242}}}
]
}
